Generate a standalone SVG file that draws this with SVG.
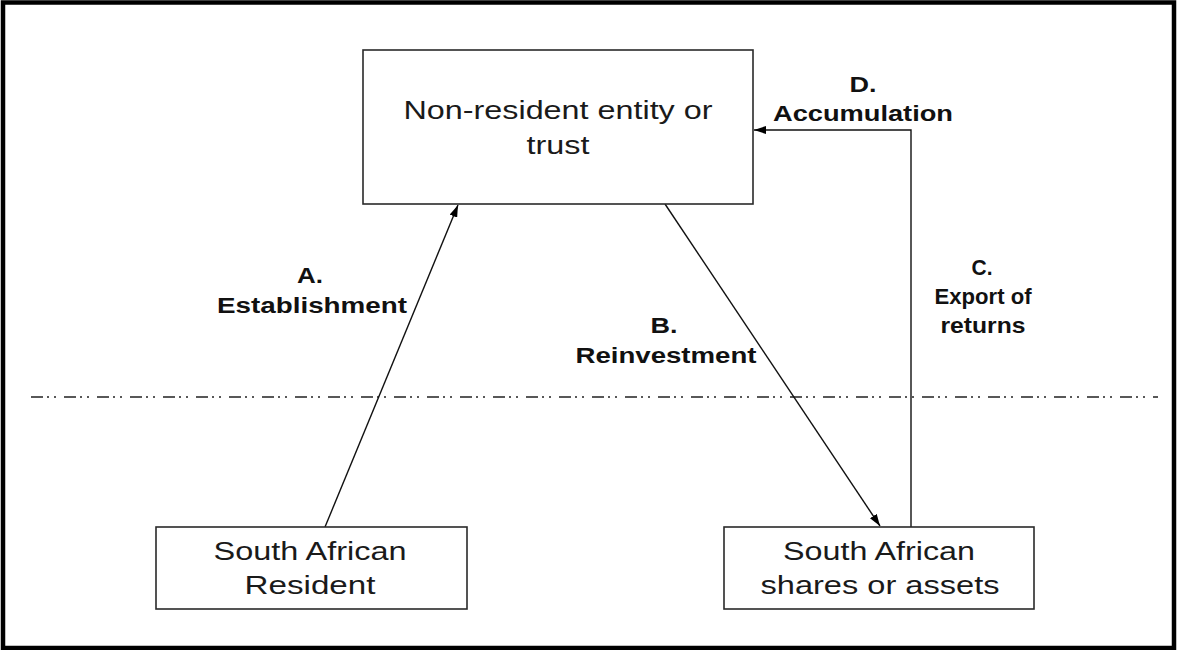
<svg xmlns="http://www.w3.org/2000/svg" width="1177" height="650" viewBox="0 0 1177 650">
<defs>
<style>
.box{fill:#fff;stroke:#2a2a2a;stroke-width:1.6}
.node{font-family:"Liberation Sans",Arial,sans-serif;font-size:26px;fill:#1a1a1a;text-anchor:middle}
.lbl{font-family:"Liberation Sans",Arial,sans-serif;font-size:22px;font-weight:bold;fill:#111;text-anchor:middle}
.conn{fill:none;stroke:#111;stroke-width:1.4}
</style>
<marker id="ah" viewBox="0 0 12 8" refX="12" refY="4" markerWidth="12" markerHeight="8" markerUnits="userSpaceOnUse" orient="auto">
<path d="M0,0 L12,4 L0,8 z" fill="#000"/>
</marker>
</defs>
<rect x="0" y="0" width="1177" height="650" fill="#fff"/>
<rect x="3" y="2.5" width="1171" height="645.5" fill="none" stroke="#000" stroke-width="4.5"/>
<line x1="31" y1="397" x2="1158" y2="397" stroke="#222" stroke-width="1.6" stroke-dasharray="12 4 2 5 2 8"/>
<g id="connectors">
<line class="conn" x1="325" y1="527" x2="458" y2="205" marker-end="url(#ah)"/>
<line class="conn" x1="665" y1="204" x2="880" y2="526" marker-end="url(#ah)"/>
<polyline class="conn" points="911,527 911,130 754,130" marker-end="url(#ah)"/>
</g>
<g id="nonresident">
<rect class="box" x="363" y="50" width="390" height="154"/>
<text class="node" x="558" y="119" textLength="309" lengthAdjust="spacingAndGlyphs">Non-resident entity or</text>
<text class="node" x="558" y="154" textLength="63" lengthAdjust="spacingAndGlyphs">trust</text>
</g>
<g id="resident">
<rect class="box" x="156" y="527" width="311" height="82"/>
<text class="node" x="310" y="560" textLength="193" lengthAdjust="spacingAndGlyphs">South African</text>
<text class="node" x="310" y="594" textLength="131" lengthAdjust="spacingAndGlyphs">Resident</text>
</g>
<g id="assets">
<rect class="box" x="724" y="527" width="310" height="82"/>
<text class="node" x="879" y="560" textLength="192" lengthAdjust="spacingAndGlyphs">South African</text>
<text class="node" x="880" y="594" textLength="239" lengthAdjust="spacingAndGlyphs">shares or assets</text>
</g>
<g id="labels">
<text class="lbl" x="310" y="283" textLength="26" lengthAdjust="spacingAndGlyphs">A.</text>
<text class="lbl" x="312" y="313" textLength="190" lengthAdjust="spacingAndGlyphs">Establishment</text>
<text class="lbl" x="664" y="333" textLength="27" lengthAdjust="spacingAndGlyphs">B.</text>
<text class="lbl" x="666" y="363" textLength="181" lengthAdjust="spacingAndGlyphs">Reinvestment</text>
<text class="lbl" x="982" y="275" textLength="21" lengthAdjust="spacingAndGlyphs">C.</text>
<text class="lbl" x="983" y="304" textLength="97" lengthAdjust="spacingAndGlyphs">Export of</text>
<text class="lbl" x="983" y="333" textLength="85" lengthAdjust="spacingAndGlyphs">returns</text>
<text class="lbl" x="863" y="92" textLength="27" lengthAdjust="spacingAndGlyphs">D.</text>
<text class="lbl" x="863" y="121" textLength="180" lengthAdjust="spacingAndGlyphs">Accumulation</text>
</g>
</svg>
